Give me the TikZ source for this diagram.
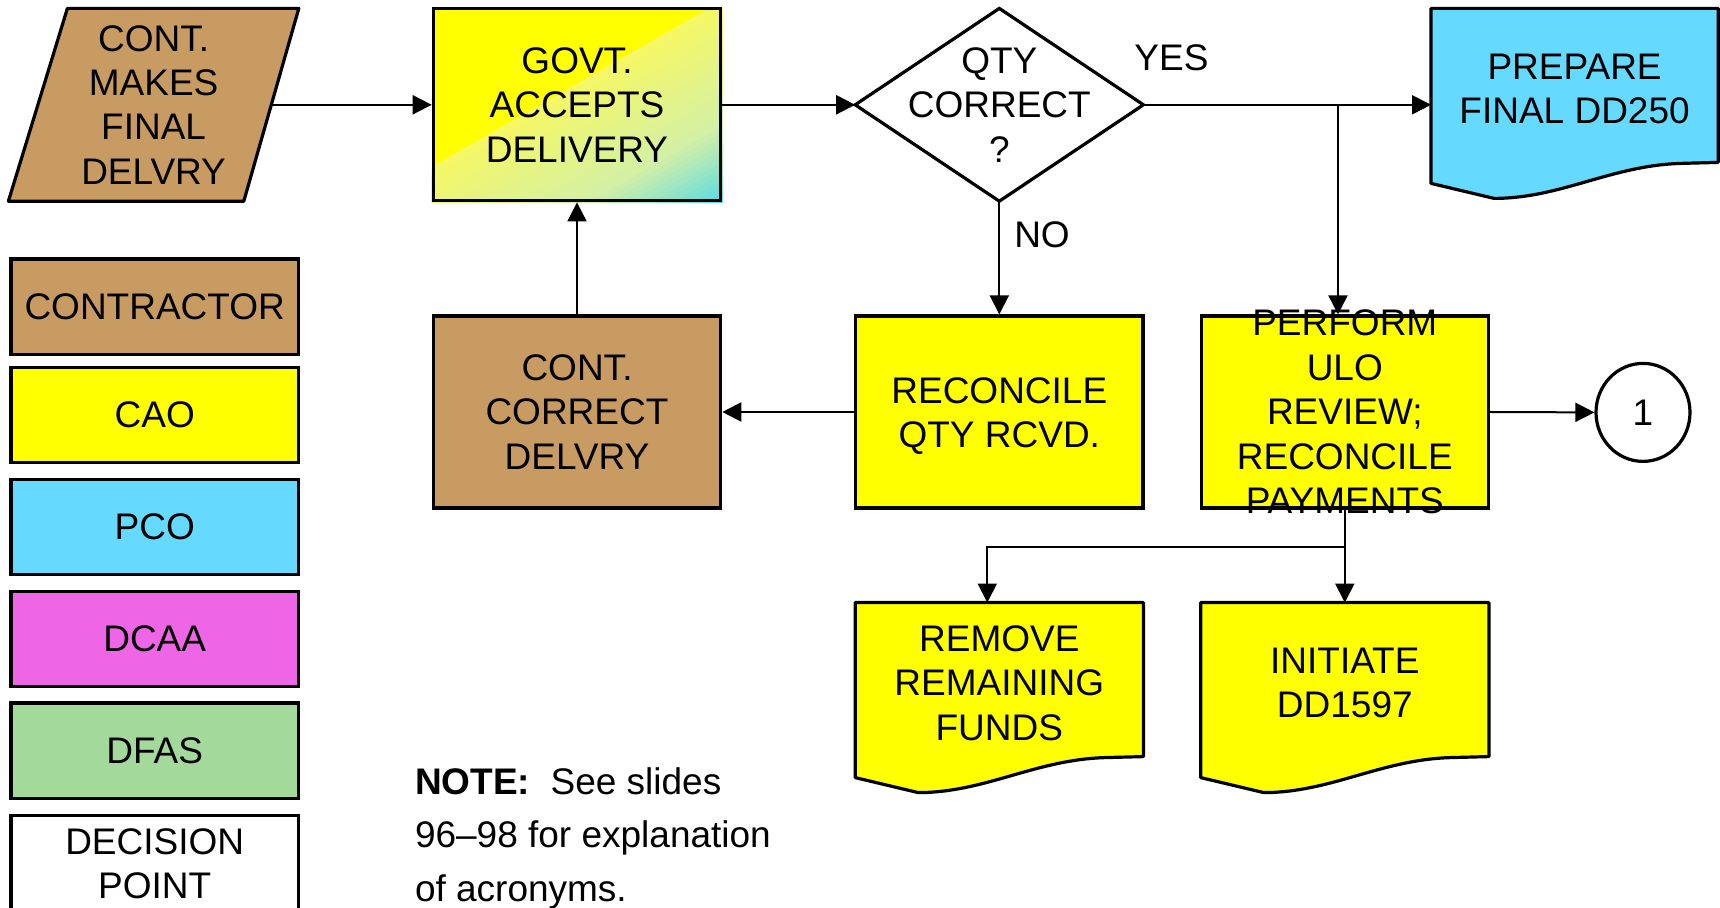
\documentclass[tikz,border=0pt]{standalone}
\usepackage{fontspec}
\setmainfont{Liberation Sans}
\usetikzlibrary{calc,arrows.meta,shapes.geometric}
\pgfdeclarelayer{background}
\pgfsetlayers{background,main}
\definecolor{cbrown}{RGB}{200,155,98}
\definecolor{cyellow}{RGB}{255,255,0}
\definecolor{pyellow}{RGB}{245,247,100}
\definecolor{lgreen}{RGB}{212,240,165}
\definecolor{gcyan}{RGB}{85,218,232}
\definecolor{ccyan}{RGB}{102,217,255}
\definecolor{cmag}{RGB}{238,102,230}
\definecolor{cgreen}{RGB}{163,217,155}
\newcommand\docshape[2]{%
  \path[docline, fill=#2] (#1.north west) -- (#1.north east) -- ($(#1.north east)+(0,154)$)
    -- ($(#1.north west)+(250,155)$) .. controls ($(#1.north west)+(180,157)$) and ($(#1.north west)+(130,190)$)
    .. ($(#1.north west)+(63,190)$) -- ($(#1.north west)+(0,175)$) -- cycle;}
\newcommand\gstrip[2]{% #1 = t, #2 = colour
  \fill[#2] (1008, -162.9+#1*199.2) -- (108, 352+#1*199.2)
     -- (108, 352+1.6*199.2) -- (1008, -162.9+1.6*199.2) -- cycle;}
\begin{document}
\begin{tikzpicture}[x=0.5pt,y=-0.5pt,font=\fontsize{18.5}{22.2}\selectfont]
\tikzset{
  box/.style={draw, line width=1.6pt, minimum width=143.7pt, minimum height=96pt, inner sep=0pt, align=center},
  legend/.style={box, minimum height=47.7pt},
  plain/.style={inner sep=0pt, align=center},
  arr/.style={line width=1pt, -{Triangle[length=9.5pt,width=9.5pt]}},
  docline/.style={draw, line width=1.6pt, line join=round}
}
\useasboundingbox (0,0) rectangle (1720,908);

% top row
\node[plain, minimum width=144.8pt, minimum height=96pt] (cm) at (153.6,104.8) {CONT.\\MAKES\\FINAL\\DELVRY};
\node[box] (govt) at (577,104.8) {GOVT.\\ACCEPTS\\DELIVERY};
\node[plain, minimum width=143.7pt, minimum height=96pt] (q) at (999.3,104.8) {QTY\\CORRECT\\?};
\node[plain, minimum width=143.15pt, minimum height=80pt] (prep) at (1574.6,88.8) {PREPARE\\FINAL DD250};

% middle row
\node[box, fill=cbrown] (cc) at (577,412) {CONT.\\CORRECT\\DELVRY};
\node[box, fill=cyellow] (rec) at (999.3,412) {};
\node[plain] (recT) at ($(rec.center)+(0,4)$) {RECONCILE\\QTY RCVD.};
\node[box, fill=cyellow] (perf) at (1344.8,412) {};
\node[plain] (perfT) at (perf.center) {PERFORM\\ULO\\REVIEW;\\RECONCILE\\PAYMENTS};
\node[draw, ellipse, line width=1.6pt, minimum width=47pt, minimum height=49pt, inner sep=0pt] (c1) at (1643,412.4) {1};

% bottom row
\node[plain, minimum width=143.7pt, minimum height=80pt] (rem) at (999.3,683) {REMOVE\\REMAINING\\FUNDS};
\node[plain, minimum width=143.7pt, minimum height=80pt] (init) at (1344.8,683) {INITIATE\\DD1597};

% legend
\node[legend, fill=cbrown] (lc) at (154.7,306.7) {CONTRACTOR};
\node[legend, fill=cyellow] (lcao) at (154.7,415.2) {CAO};
\node[legend, fill=ccyan] (lpco) at (154.7,527.1) {PCO};
\node[legend, fill=cmag] (ldcaa) at (154.7,639) {DCAA};
\node[legend, fill=cgreen] (ldfas) at (154.7,750.8) {DFAS};
\node[legend, fill=white] (ldp) at (154.7,863.5) {DECISION\\POINT};

% labels
\node[plain] (yes) at (1171.5,58) {YES};
\node[plain] (no) at (1042,234.7) {NO};
\node[plain, anchor=west, align=left, font=\fontsize{18.5}{26.75}\selectfont] (note) at (414.6,838) {\textbf{NOTE:}\ \ See slides\\96--98 for explanation\\of acronyms.};

\begin{pgfonlayer}{background}
  % gradient fill of the GOVT box
  \begin{scope}
    \clip (govt.north west) rectangle (govt.south east);
    \fill[cyellow] (govt.north west) rectangle (govt.south east);
    \foreach \i in {0,...,23} {
      \pgfmathsetmacro\tv{\i*0.026}
      \pgfmathsetmacro\pv{100*\i/23}
      \gstrip{\tv}{lgreen!\pv!pyellow}
    }
    \foreach \i in {1,...,14} {
      \pgfmathsetmacro\tv{0.6+\i*0.03}
      \pgfmathsetmacro\pv{100*\i/14}
      \gstrip{\tv}{gcyan!\pv!lgreen}
    }
  \end{scope}
  \path[docline, fill=cbrown] ($(cm.north west)+(59,0)$) -- (cm.north east) -- ($(cm.south east)+(-55,0)$) -- (cm.south west) -- cycle;
  \path[docline, line join=miter, fill=white] (q.west) -- (q.north) -- (q.east) -- (q.south) -- cycle;
  \docshape{prep}{ccyan}
  \docshape{rem}{cyellow}
  \docshape{init}{cyellow}
\end{pgfonlayer}

% connectors
\coordinate (cmE) at ($(cm.east)+(-28.5,0)$);
\draw[arr] (cmE) -- (govt.west);
\draw[arr] (govt.east) -- (q.west);
\draw[arr] (q.east) -- (q.east -| prep.west);
\coordinate (yb) at (1338,104.8);
\draw[arr] (yb) -- (yb |- perf.north);
\draw[arr] (q.south) -- (rec.north);
\draw[arr] (rec.west) -- (cc.east);
\draw[arr] (cc.north) -- (govt.south);
\draw[arr] (perf.east) -- (c1.west);
\coordinate (pb) at ($(perf.south)+(0,37)$);
\draw[arr] (perf.south) -- (init.north);
\draw[arr] (pb) -| ($(rem.north)+(-12,0)$);
\end{tikzpicture}
\end{document}
